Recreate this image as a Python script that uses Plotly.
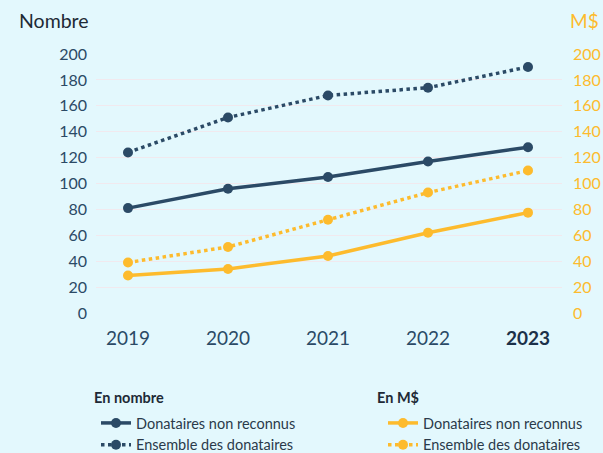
import plotly.graph_objects as go

years = ["2019", "2020", "2021", "2022", "2023"]
tick_labels = ["2019", "2020", "2021", "2022", "<b><span style='color:#1b3149'>2023</span></b>"]
nb_non_reconnus = [81, 96, 105, 117, 128]
nb_ensemble = [124, 151, 168, 174, 190]
md_non_reconnus = [29, 34, 44, 62, 77.5]
md_ensemble = [39, 51, 72, 93, 110]
y_ticks = [0, 20, 40, 60, 80, 100, 120, 140, 160, 180, 200]

NAVY = "#2b4a66"
YELLOW = "#fdbb2d"
BG = "#e3f8fd"
GRID = "#f1e9ee"
FONT = "Lato"

W, H = 603, 453
L, R, T, B = 96, 41, 54, 140
pw, ph = W - L - R, H - T - B

def px(x):
    return (x - L) / pw

def py(y):
    return (H - B - y) / ph

fig = go.Figure()
fig.add_trace(go.Scatter(x=years, y=nb_non_reconnus, name="Donataires non reconnus",
                         mode="lines+markers", line=dict(color=NAVY, width=3.5),
                         marker=dict(size=10, color=NAVY), legend="legend"))
fig.add_trace(go.Scatter(x=years, y=nb_ensemble, name="Ensemble des donataires",
                         mode="lines+markers", line=dict(color=NAVY, width=3.5, dash="dot"),
                         marker=dict(size=10, color=NAVY), legend="legend"))
fig.add_trace(go.Scatter(x=years, y=md_non_reconnus, name="Donataires non reconnus",
                         mode="lines+markers", line=dict(color=YELLOW, width=3.5),
                         marker=dict(size=10, color=YELLOW), yaxis="y2", legend="legend2"))
fig.add_trace(go.Scatter(x=years, y=md_ensemble, name="Ensemble des donataires",
                         mode="lines+markers", line=dict(color=YELLOW, width=3.5, dash="dot"),
                         marker=dict(size=10, color=YELLOW), yaxis="y2", legend="legend2"))

legend_common = dict(
    orientation="v", xanchor="left", yanchor="top",
    bgcolor="rgba(0,0,0,0)", borderwidth=0,
    font=dict(family=FONT, size=14.5, color="#2a3a4a"),
    itemwidth=30, traceorder="normal",
)

title_font = dict(family=FONT, size=14.5, color="#1e2a36")

fig.update_layout(
    width=W, height=H,
    margin=dict(l=L, r=R, t=T, b=B, autoexpand=False),
    paper_bgcolor=BG, plot_bgcolor=BG,
    font=dict(family=FONT, color=NAVY),
    showlegend=True,
    xaxis=dict(
        type="category", categoryorder="array", categoryarray=years,
        tickvals=years, ticktext=tick_labels,
        range=[-0.32, 4.34], showgrid=False, zeroline=False, showline=False,
        tickfont=dict(family=FONT, size=19, color="#2b4a66"), ticks="",
        ticklabelstandoff=12,
    ),
    yaxis=dict(
        range=[0, 200], tickvals=y_ticks, showgrid=True, gridcolor=GRID, gridwidth=1,
        zeroline=False, showline=False, ticks="",
        tickfont=dict(family=FONT, size=16, color="#2b4a66"),
        ticklabelstandoff=8,
    ),
    yaxis2=dict(
        range=[0, 200], tickvals=y_ticks, overlaying="y", side="right",
        showgrid=False, zeroline=False, showline=False, ticks="",
        tickfont=dict(family=FONT, size=16, color=YELLOW),
        ticklabelstandoff=10,
    ),
    legend=dict(x=px(96), y=py(407), **legend_common),
    legend2=dict(x=px(383), y=py(407), **legend_common),
    annotations=[
        dict(text="Nombre", x=px(17), y=py(20), xref="paper", yref="paper",
             xanchor="left", yanchor="middle", showarrow=False,
             font=dict(family=FONT, size=19.5, color="#1e2a36")),
        dict(text="M$", x=px(601), y=py(20), xref="paper", yref="paper",
             xanchor="right", yanchor="middle", showarrow=False,
             font=dict(family=FONT, size=19, color=YELLOW)),
        dict(text="<b>En nombre</b>", x=px(92), y=py(397), xref="paper", yref="paper",
             xanchor="left", yanchor="middle", showarrow=False, font=title_font),
        dict(text="<b>En M$</b>", x=px(375), y=py(397), xref="paper", yref="paper",
             xanchor="left", yanchor="middle", showarrow=False, font=title_font),
    ],
)

fig.write_html("out.html", config={"displayModeBar": False},
               post_script="document.body.style.margin='0';document.body.style.padding='0';")
